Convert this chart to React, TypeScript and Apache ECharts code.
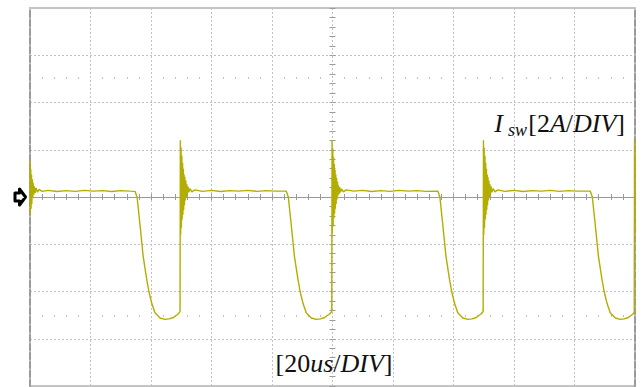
import { useEffect, useRef } from "react";
import * as echarts from "echarts";

// Axis ranges (time in microseconds, current in amperes)
const T_MIN = 0;
const T_MAX = 200;
const T_DIV = 20; // 20 us / DIV
const I_MIN = -8;
const I_MAX = 8;
const I_DIV = 2; // 2 A / DIV

// Switch current waveform, one array per switching cycle
const cycle0: [number, number][] = [
  [0, 1.55], [0.1, -0.75], [0.25, 1.2], [0.35, -0.5], [0.5, 0.95], [0.6, -0.3],
  [0.75, 0.75], [0.9, -0.05], [1.05, 0.6], [1.25, 0.1], [1.45, 0.45], [1.7, 0.18],
  [2.0, 0.38], [2.5, 0.2], [3, 0.32], [4, 0.24], [6, 0.28], [9, 0.23], [12, 0.27],
  [15, 0.24], [18, 0.28], [21, 0.25], [24, 0.27], [27, 0.23], [30, 0.27], [33, 0.25],
  [34.7, 0.24], [35.4, 0.0], [36.3, -1.1], [37.4, -2.5], [38.6, -3.5], [39.3, -4.0],
  [40.2, -4.48], [41.3, -4.9], [43.0, -5.12], [44.6, -5.18], [46.0, -5.16],
  [47.4, -5.1], [49.0, -4.95], [49.6, -4.85],
];

const cycle1: [number, number][] = [
  [49.7, 2.4], [49.8, -1.6], [49.95, 2.1], [50.05, -1.3], [50.2, 1.75], [50.3, -0.95],
  [50.45, 1.45], [50.55, -0.75], [50.7, 1.2], [50.8, -0.55], [50.95, 0.95], [51.05, -0.35],
  [51.2, 0.85], [51.35, -0.15], [51.5, 0.7], [51.65, 0.0], [51.8, 0.55], [52.0, 0.1],
  [52.2, 0.45], [52.5, 0.2], [52.9, 0.36], [53.5, 0.22], [54.5, 0.3], [57, 0.24],
  [60, 0.28], [63, 0.23], [66, 0.27], [69, 0.25], [72, 0.28], [75, 0.24], [78, 0.27],
  [81, 0.25], [84.7, 0.25], [85.4, 0.0], [86.3, -1.1], [87.4, -2.5], [88.6, -3.5],
  [89.3, -4.0], [90.2, -4.48], [91.3, -4.9], [93.0, -5.12], [94.6, -5.18],
  [96.0, -5.16], [97.4, -5.1], [99.0, -4.95], [99.75, -4.85],
];

const cycle2: [number, number][] = [
  [99.85, 2.4], [99.95, -1.55], [100.1, 2.05], [100.2, -1.25], [100.35, 1.7],
  [100.45, -0.9], [100.6, 1.4], [100.7, -0.7], [100.85, 1.15], [100.95, -0.5],
  [101.1, 0.95], [101.2, -0.3], [101.35, 0.8], [101.5, -0.1], [101.65, 0.65],
  [101.8, 0.05], [101.95, 0.5], [102.15, 0.12], [102.35, 0.42], [102.65, 0.2],
  [103.0, 0.35], [103.6, 0.22], [104.5, 0.3], [107, 0.25], [110, 0.28], [113, 0.23],
  [116, 0.27], [119, 0.24], [122, 0.28], [125, 0.25], [128, 0.27], [131, 0.24],
  [134.8, 0.25], [135.5, 0.0], [136.4, -1.1], [137.5, -2.5], [138.7, -3.5],
  [139.4, -4.0], [140.3, -4.48], [141.4, -4.9], [143.1, -5.12], [144.8, -5.18],
  [146.1, -5.16], [147.5, -5.1], [149.1, -4.95], [149.8, -4.85],
];

const cycle3: [number, number][] = [
  [149.9, 2.4], [150.0, -1.6], [150.15, 2.1], [150.25, -1.3], [150.4, 1.75],
  [150.5, -0.95], [150.65, 1.45], [150.75, -0.75], [150.9, 1.2], [151.0, -0.55],
  [151.15, 0.95], [151.25, -0.35], [151.4, 0.85], [151.55, -0.15], [151.7, 0.7],
  [151.85, 0.0], [152.0, 0.55], [152.2, 0.1], [152.4, 0.45], [152.7, 0.2],
  [153.1, 0.36], [153.7, 0.22], [154.6, 0.3], [157, 0.24], [160, 0.28], [163, 0.23],
  [166, 0.27], [169, 0.25], [172, 0.28], [175, 0.24], [178, 0.27], [181, 0.25],
  [185.2, 0.25], [185.9, 0.0], [186.8, -1.1], [187.9, -2.5], [189.1, -3.5],
  [189.8, -4.0], [190.7, -4.48], [191.8, -4.9], [193.5, -5.12], [195.1, -5.18],
  [196.4, -5.16], [197.8, -5.1], [199.3, -4.95], [199.75, -4.87],
];

const cycle4: [number, number][] = [
  [199.85, 2.4], [199.95, -1.5], [200, 1.8],
];

const TRACE_COLOR = "#b3ad00";
const GRID_COLOR = "#c2c2c2";
const FRAME_COLOR = "#9a9a9a";
const SERIF = "'Liberation Serif', 'Times New Roman', serif";

export default function App() {
  const ref = useRef<HTMLDivElement>(null);

  useEffect(() => {
    if (!ref.current) return;
    const chart = echarts.init(ref.current, null, { renderer: "svg" });

    const data = [...cycle0, ...cycle1, ...cycle2, ...cycle3, ...cycle4];

    const hidden = { show: false };
    const xBase = {
      type: "value" as const,
      min: T_MIN,
      max: T_MAX,
      interval: T_DIV,
      axisLabel: hidden,
      splitLine: hidden,
    };
    const yBase = {
      type: "value" as const,
      min: I_MIN,
      max: I_MAX,
      interval: I_DIV,
      axisLabel: hidden,
      splitLine: hidden,
    };
    const tickStyle = { color: FRAME_COLOR, width: 1 };
    const gridLine = {
      show: true,
      lineStyle: { color: GRID_COLOR, width: 1, type: [2, 2] as number[] },
    };
    const frameLine = {
      show: true,
      onZero: false,
      lineStyle: { color: FRAME_COLOR, width: 2, type: [6, 3] as number[] },
    };

    chart.setOption({
      animation: false,
      backgroundColor: "#ffffff",
      grid: {
        left: 30,
        right: 6,
        top: 8,
        bottom: 1,
        show: true,
        borderColor: "#c4c4c4",
        borderWidth: 2,
        backgroundColor: "transparent",
      },
      xAxis: [
        {
          ...xBase,
          position: "bottom",
          axisLine: { show: true, onZero: true, lineStyle: { color: FRAME_COLOR, width: 1 } },
          axisTick: { show: true, length: 3, lineStyle: tickStyle },
          minorTick: { show: true, splitNumber: 5, length: 3, lineStyle: tickStyle },
          splitLine: gridLine,
        },
        {
          ...xBase,
          position: "top",
          axisLine: { show: false, onZero: true },
          axisTick: { show: true, length: 3, lineStyle: tickStyle },
          minorTick: { show: true, splitNumber: 5, length: 3, lineStyle: tickStyle },
        },
        {
          ...xBase,
          position: "top",
          offset: -71,
          axisLine: { show: false, onZero: false },
          axisTick: hidden,
          minorTick: { show: true, splitNumber: 5, length: 2, lineStyle: { color: GRID_COLOR, width: 1 } },
        },
        {
          ...xBase,
          position: "bottom",
          offset: -71,
          axisLine: { show: false, onZero: false },
          axisTick: hidden,
          minorTick: { show: true, splitNumber: 5, length: 2, lineStyle: { color: GRID_COLOR, width: 1 } },
        },
      ],
      yAxis: [
        {
          ...yBase,
          position: "left",
          axisLine: frameLine,
          axisTick: hidden,
          splitLine: gridLine,
        },
        {
          ...yBase,
          position: "right",
          axisLine: frameLine,
          axisTick: hidden,
        },
        {
          ...yBase,
          position: "left",
          offset: -302.5,
          axisLine: { show: false, onZero: false },
          axisTick: { show: true, length: 3, lineStyle: tickStyle },
          minorTick: { show: true, splitNumber: 5, length: 3, lineStyle: tickStyle },
        },
        {
          ...yBase,
          position: "right",
          offset: -302.5,
          axisLine: { show: false, onZero: false },
          axisTick: { show: true, length: 3, lineStyle: tickStyle },
          minorTick: { show: true, splitNumber: 5, length: 3, lineStyle: tickStyle },
        },
      ],
      series: [
        {
          type: "line",
          xAxisIndex: 0,
          yAxisIndex: 0,
          data,
          showSymbol: false,
          symbol: "none",
          clip: true,
          lineStyle: { color: TRACE_COLOR, width: 1.4 },
          z: 5,
        },
      ],
      graphic: [
        {
          type: "polygon",
          z: 10,
          shape: {
            points: [
              [15, 193], [19.5, 193], [19.5, 189], [25.5, 197],
              [19.5, 205], [19.5, 201], [15, 201],
            ],
          },
          style: { fill: "#ffffff", stroke: "#000000", lineWidth: 3, lineJoin: "round" },
        },
        {
          type: "text",
          z: 10,
          x: 334,
          y: 363,
          style: {
            text: "{n|[20}{i|us}{n|/}{i|DIV}{n|]}",
            align: "center",
            verticalAlign: "middle",
            fill: "#111111",
            rich: {
              n: { fontFamily: SERIF, fontSize: 26, fill: "#111111" },
              i: { fontFamily: SERIF, fontSize: 26, fontStyle: "italic", fill: "#111111" },
            },
          },
        },
        {
          type: "text",
          z: 10,
          x: 625,
          y: 123,
          style: {
            text: "{n|[2}{i|A}{n|/}{i|DIV}{n|]}",
            align: "right",
            verticalAlign: "middle",
            fill: "#111111",
            rich: {
              n: { fontFamily: SERIF, fontSize: 26, fill: "#111111" },
              i: { fontFamily: SERIF, fontSize: 26, fontStyle: "italic", fill: "#111111" },
            },
          },
        },
        {
          type: "text",
          z: 10,
          x: 527,
          y: 130,
          style: {
            text: "sw",
            align: "right",
            verticalAlign: "middle",
            fontFamily: SERIF,
            fontSize: 18,
            fontStyle: "italic",
            fill: "#111111",
          },
        },
        {
          type: "text",
          z: 10,
          x: 503,
          y: 123,
          style: {
            text: "I",
            align: "right",
            verticalAlign: "middle",
            fontFamily: SERIF,
            fontSize: 26,
            fontStyle: "italic",
            fill: "#111111",
          },
        },
      ],
    });

    return () => chart.dispose();
  }, []);

  return (
    <div
      ref={ref}
      style={{ position: "fixed", left: 0, top: 0, width: 641, height: 387, background: "#fff" }}
    />
  );
}
